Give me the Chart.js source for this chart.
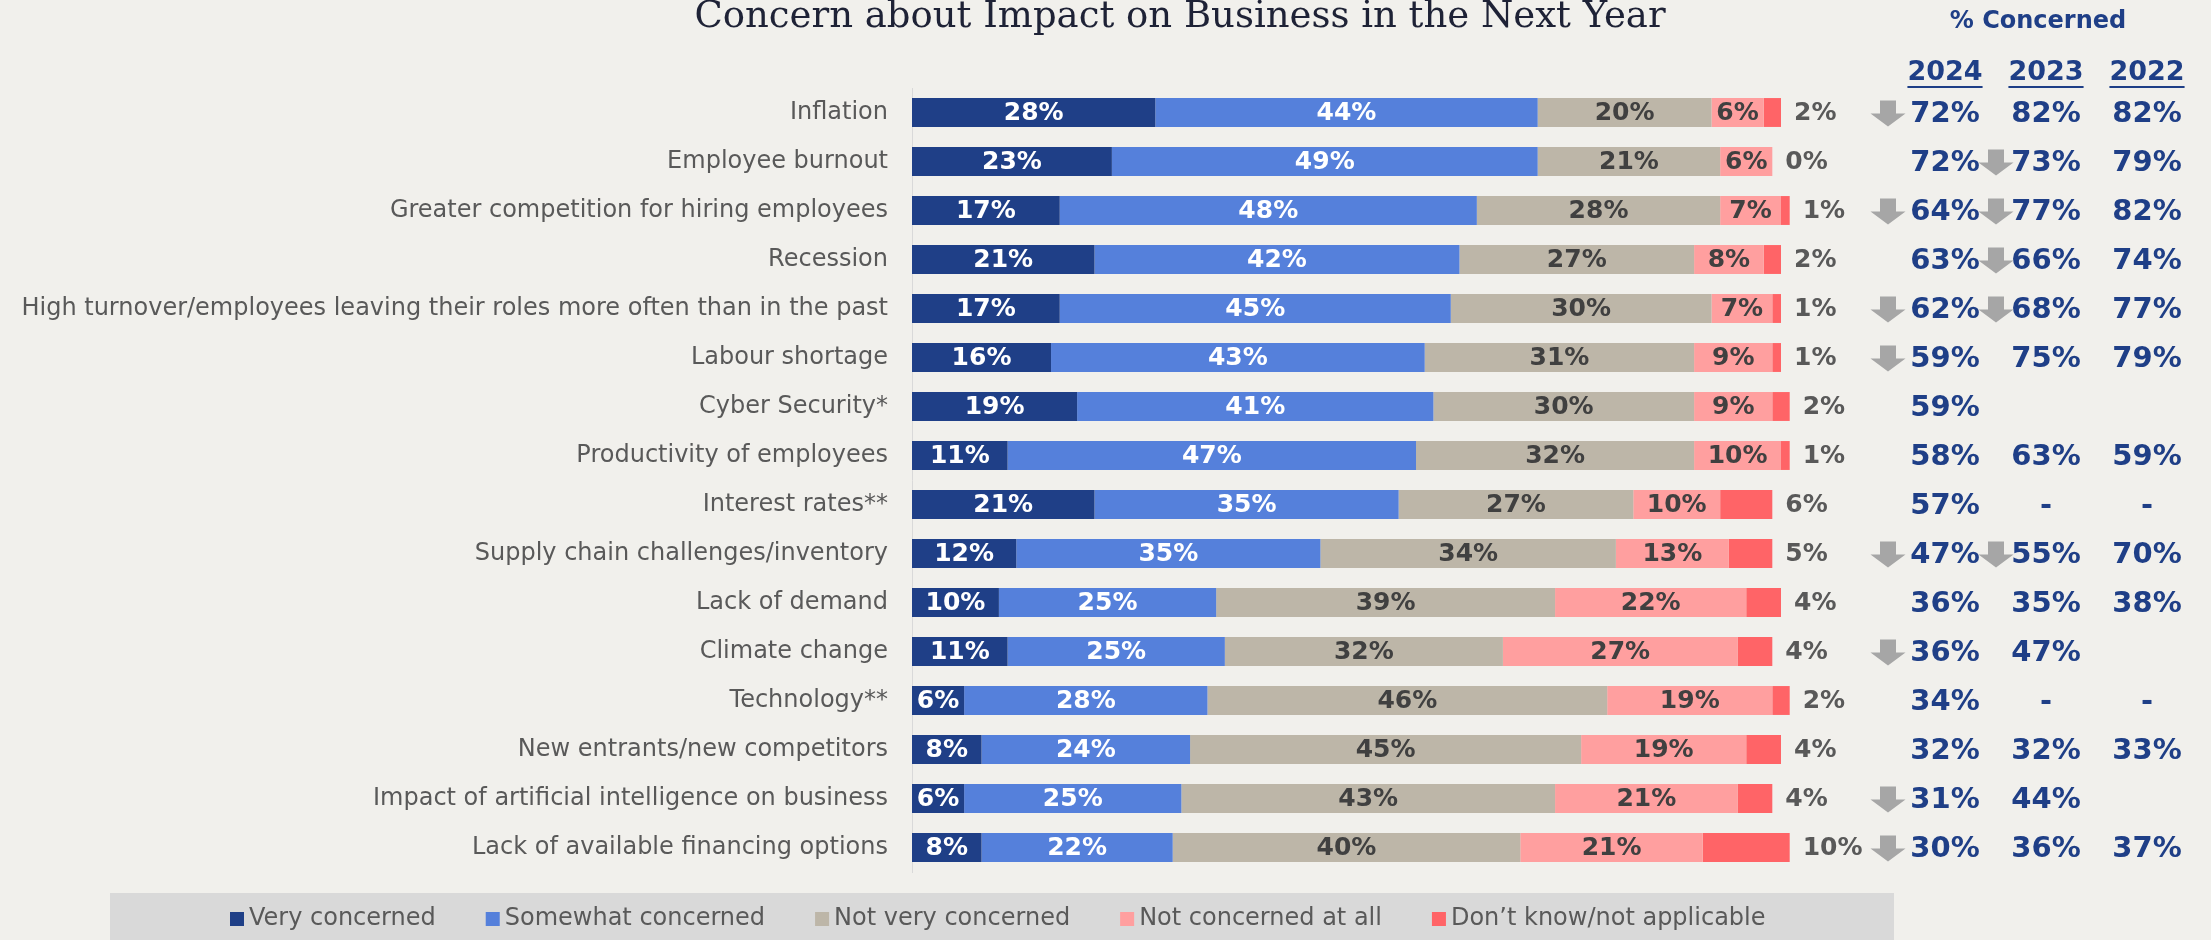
<!DOCTYPE html>
<html>
<head>
<meta charset="utf-8">
<title>Concern about Impact on Business in the Next Year</title>
<script src="https://cdn.jsdelivr.net/npm/chart.js@4.4.1/dist/chart.umd.min.js"></script>
<style>
  html, body { margin: 0; padding: 0; background: #F1F0EC; }
</style>
</head>
<body>
<canvas id="concernChart" width="2211" height="940"></canvas>
<script>
const chartTitle = 'Concern about Impact on Business in the Next Year';

const categories = [
    'Inflation',
    'Employee burnout',
    'Greater competition for hiring employees',
    'Recession',
    'High turnover/employees leaving their roles more often than in the past',
    'Labour shortage',
    'Cyber Security*',
    'Productivity of employees',
    'Interest rates**',
    'Supply chain challenges/inventory',
    'Lack of demand',
    'Climate change',
    'Technology**',
    'New entrants/new competitors',
    'Impact of artificial intelligence on business',
    'Lack of available financing options'
];

const seriesNames = ['Very concerned', 'Somewhat concerned', 'Not very concerned', 'Not concerned at all', 'Don\u2019t know/not applicable'];

const veryConcerned     = [28, 23, 17, 21, 17, 16, 19, 11, 21, 12, 10, 11,  6,  8,  6,  8];
const somewhatConcerned = [44, 49, 48, 42, 45, 43, 41, 47, 35, 35, 25, 25, 28, 24, 25, 22];
const notVeryConcerned  = [20, 21, 28, 27, 30, 31, 30, 32, 27, 34, 39, 32, 46, 45, 43, 40];
const notConcernedAtAll = [ 6,  6,  7,  8,  7,  9,  9, 10, 10, 13, 22, 27, 19, 19, 21, 21];
const dontKnow          = [ 2,  0,  1,  2,  1,  1,  2,  1,  6,  5,  4,  4,  2,  4,  4, 10];

// % concerned by survey year ('' = not asked, '-' = not comparable)
const tableTitle = '% Concerned';
const years = ['2024', '2023', '2022'];
const concerned2024 = ['72%', '72%', '64%', '63%', '62%', '59%', '59%', '58%', '57%', '47%', '36%', '36%', '34%', '32%', '31%', '30%'];
const concerned2023 = ['82%', '73%', '77%', '66%', '68%', '75%', '',    '63%', '-',   '55%', '35%', '47%', '-',   '32%', '44%', '36%'];
const concerned2022 = ['82%', '79%', '82%', '74%', '77%', '79%', '',    '59%', '-',   '70%', '38%', '',    '-',   '33%', '',    '37%'];

// significant drop vs previous year, shown as a grey arrow
const drop2024 = [true, false, true, false, true, true, false, false, false, true, false, true, false, false, true, true];
const drop2023 = [false, true, true, true, true, false, false, false, false, true, false, false, false, false, false, false];

const colors = ['#1F3F87', '#5580DB', '#BDB6A8', '#FF9F9F', '#FF6467'];
const labelColors = ['#FFFFFF', '#FFFFFF', '#404040', '#404040', '#595959'];

const SANS = "'DejaVu Sans', Verdana, sans-serif";
const NAVY = '#1F3F87';

const background = {
    id: 'background',
    beforeDraw(chart) {
        const ctx = chart.ctx;
        ctx.save();
        ctx.fillStyle = '#F1F0EC';
        ctx.fillRect(0, 0, chart.width, chart.height);
        ctx.restore();
    }
};

const titleText = {
    id: 'titleText',
    afterDraw(chart) {
        const ctx = chart.ctx;
        ctx.save();
        ctx.font = "37px 'DejaVu Serif', Georgia, serif";
        ctx.fillStyle = '#1E2236';
        ctx.textAlign = 'center';
        ctx.textBaseline = 'alphabetic';
        ctx.fillText(chartTitle, 1180, 27);
        ctx.restore();
    }
};

// percentage labels on each segment, last series sits right of the bar
const segmentLabels = {
    id: 'segmentLabels',
    afterDatasetsDraw(chart) {
        const ctx = chart.ctx;
        ctx.save();
        ctx.textBaseline = 'middle';
        chart.data.datasets.forEach((ds, i) => {
            const meta = chart.getDatasetMeta(i);
            const last = i === chart.data.datasets.length - 1;
            ctx.fillStyle = labelColors[i];
            ctx.textAlign = last ? 'left' : 'center';
            ctx.font = 'bold 25px ' + SANS;
            meta.data.forEach((bar, j) => {
                const text = ds.data[j] + '%';
                if (last) {
                    ctx.fillText(text, bar.x + 13, bar.y + 1);
                } else {
                    ctx.fillText(text, (bar.x + bar.base) / 2, bar.y + 1);
                }
            });
        });
        ctx.restore();
    }
};

function drawDownArrow(ctx, cx, cy) {
    ctx.beginPath();
    ctx.moveTo(cx - 8, cy - 13);
    ctx.lineTo(cx + 8, cy - 13);
    ctx.lineTo(cx + 8, cy);
    ctx.lineTo(cx + 17.5, cy);
    ctx.lineTo(cx, cy + 13);
    ctx.lineTo(cx - 17.5, cy);
    ctx.lineTo(cx - 8, cy);
    ctx.closePath();
    ctx.fill();
}

const concernTable = {
    id: 'concernTable',
    afterDraw(chart) {
        const ctx = chart.ctx;
        const yScale = chart.scales.y;
        const colX = [1945, 2046, 2147];
        const columns = [concerned2024, concerned2023, concerned2022];
        ctx.save();
        ctx.fillStyle = NAVY;
        ctx.textAlign = 'center';
        ctx.textBaseline = 'middle';

        ctx.font = 'bold 24px ' + SANS;
        ctx.fillText(tableTitle, 2038, 22);

        ctx.font = 'bold 27px ' + SANS;
        years.forEach((yr, k) => {
            ctx.fillText(yr, colX[k], 73);
            const w = ctx.measureText(yr).width;
            ctx.fillRect(colX[k] - w / 2, 86, w, 2);
        });

        ctx.font = 'bold 29px ' + SANS;
        categories.forEach((c, i) => {
            const y = yScale.getPixelForValue(i);
            columns.forEach((col, k) => {
                if (col[i]) ctx.fillText(col[i], colX[k], y + 1.5);
            });
        });

        ctx.fillStyle = '#A6A6A6';
        categories.forEach((c, i) => {
            const y = yScale.getPixelForValue(i) + 1;
            if (drop2024[i]) drawDownArrow(ctx, 1888, y);
            if (drop2023[i]) drawDownArrow(ctx, 1996, y);
        });
        ctx.restore();
    }
};

const legendBar = {
    id: 'legendBar',
    afterDraw(chart) {
        const ctx = chart.ctx;
        ctx.save();
        ctx.fillStyle = '#D9D9D9';
        ctx.fillRect(110, 893, 1784, 47);
        ctx.font = '24px ' + SANS;
        ctx.textBaseline = 'middle';
        ctx.textAlign = 'left';
        let x = 230;
        chart.data.datasets.forEach(ds => {
            ctx.fillStyle = ds.backgroundColor;
            ctx.fillRect(x, 912, 14, 14);
            ctx.fillStyle = '#595959';
            ctx.fillText(ds.label, x + 19, 919);
            x += 19 + ctx.measureText(ds.label).width + 50;
        });
        ctx.restore();
    }
};

const seriesValues = [veryConcerned, somewhatConcerned, notVeryConcerned, notConcernedAtAll, dontKnow];

new Chart(document.getElementById('concernChart').getContext('2d'), {
    type: 'bar',
    data: {
        labels: categories,
        datasets: seriesValues.map((values, i) => ({
            label: seriesNames[i],
            data: values,
            backgroundColor: colors[i],
            borderWidth: 0,
            barPercentage: 0.59,
            categoryPercentage: 1,
            clip: false
        }))
    },
    options: {
        indexAxis: 'y',
        responsive: false,
        animation: false,
        layout: {padding: {top: 88, right: 430, bottom: 68, left: 0}},
        plugins: {
            legend: {display: false},
            title: {display: false},
            tooltip: {enabled: false}
        },
        scales: {
            x: {stacked: true, min: 0, max: 100, display: false},
            y: {
                stacked: true,
                grid: {display: false, drawTicks: false},
                border: {display: true, color: '#D9D9D9', width: 1},
                ticks: {color: '#595959', font: {family: SANS, size: 24}, padding: 24},
                afterFit(scale) { scale.width = 912; }
            }
        }
    },
    plugins: [background, segmentLabels, concernTable, titleText, legendBar]
});
</script>
</body>
</html>
